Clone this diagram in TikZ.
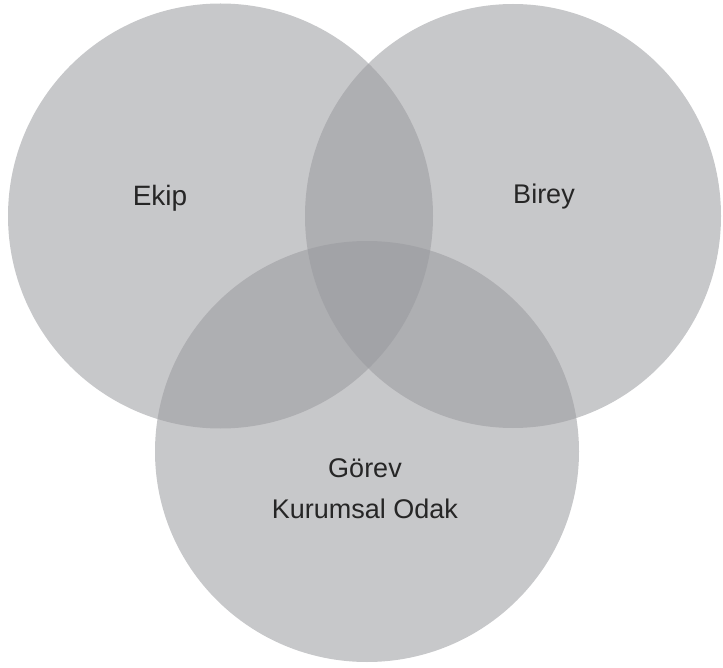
\documentclass[tikz,border=0pt]{standalone}
\usepackage{fontspec}
\setmainfont{Liberation Sans}
\usetikzlibrary{shapes.geometric}
\definecolor{setgray}{RGB}{153,154,158}
\begin{document}
\begin{tikzpicture}
  [x=1pt,y=-1pt,every node/.style={font=\fontsize{27}{32}\selectfont,text=black!85}]
  \tikzstyle{set} = [ellipse,fill=setgray,fill opacity=0.55,inner sep=0pt]
  \useasboundingbox (0,0) rectangle (723,668);
  \clip (0,0) rectangle (723,668);
  \node[set,minimum width=425pt,minimum height=425pt] (team) at (220.5,216) {};
  \node[set,minimum width=416pt,minimum height=424pt] (self) at (513,216) {};
  \node[set,minimum width=424pt,minimum height=421pt] (task) at (367,451.5) {};
  \node[anchor=base,font=\fontsize{28}{32}\selectfont] (ekip) at (160,206) {Ekip};
  \node[anchor=base] (birey) at (544,204) {Birey};
  \node[anchor=base] (gorev) at (365,477) {Görev};
  \node[anchor=base] (odak) at (365,518) {Kurumsal Odak};
\end{tikzpicture}
\end{document}
